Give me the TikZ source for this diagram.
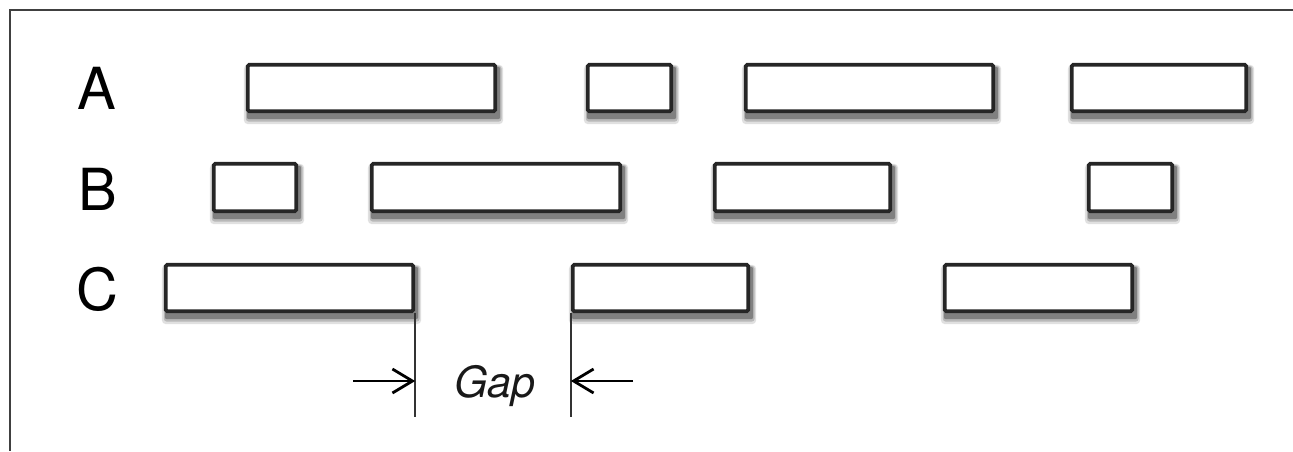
\documentclass[tikz,border=0pt]{standalone}
\usepackage{fontspec}
\setmainfont{TeX Gyre Heros}
\usetikzlibrary{arrows.meta,backgrounds}
\begin{document}
\begin{tikzpicture}[x=1pt,y=-1pt,
  bar/.style={draw=black!85, line width=3.8pt, fill=white, rounded corners=1.5pt, inner sep=0pt},
  rowA/.style={bar, minimum height=46.5pt},
  rowB/.style={bar, minimum height=47.5pt},
  rowC/.style={bar, minimum height=46.5pt},
  shadeA/.style={fill=black!12, rounded corners=4pt},
  shadeB/.style={fill=black!28, rounded corners=3pt},
  shadeC/.style={fill=black!50, rounded corners=2pt},
  lbl/.style={font=\fontsize{58}{60}\selectfont, inner sep=0pt, text=black},
  gaptext/.style={font=\fontsize{43}{45}\selectfont\itshape, inner sep=0pt, text=black!90},
  frame/.style={draw=black!75, line width=2pt},
  gapline/.style={draw=black!80, line width=1.6pt},
  gaparrow/.style={draw=black, line width=2.8pt, -{Straight Barb[length=20pt,width=24pt]}}
]
\useasboundingbox (0,0) rectangle (1293,451);
% frame (top and left only)
\coordinate (ftl) at (9.5,10);
\coordinate (ftr) at (1293,10);
\coordinate (fbl) at (9.5,451);
\draw[frame] (ftr) -- (ftl) -- (fbl);
% labels
\node[lbl] (la) at (97,88) {A};
\node[lbl] (lb) at (98,189) {B};
\node[lbl] (lc) at (97,289) {C};
% row A
\node[rowA, minimum width=247.5pt] (a1) at (371.5,88) {};
\node[rowA, minimum width=83.5pt]  (a2) at (629.5,88) {};
\node[rowA, minimum width=247.5pt] (a3) at (869.5,88) {};
\node[rowA, minimum width=174.5pt] (a4) at (1159,88) {};
% row B
\node[rowB, minimum width=82.5pt]  (b1) at (255,187.5) {};
\node[rowB, minimum width=248.5pt] (b2) at (496,187.5) {};
\node[rowB, minimum width=175.5pt] (b3) at (802.5,187.5) {};
\node[rowB, minimum width=83.5pt]  (b4) at (1130.5,187.5) {};
% row C
\node[rowC, minimum width=247.5pt] (c1) at (289.5,288) {};
\node[rowC, minimum width=175.5pt] (c2) at (660.5,288) {};
\node[rowC, minimum width=187.5pt] (c3) at (1038.5,288) {};
% soft drop shadows
\begin{scope}[on background layer]
\foreach \n in {a1,a2,a3,a4,b1,b2,b3,b4,c1,c2,c3}{
  \fill[shadeA] ([xshift=-2pt,yshift=-2pt]\n.north west) rectangle ([xshift=6pt,yshift=-11pt]\n.south east);
  \fill[shadeB] ([xshift=0pt,yshift=-3pt]\n.north west) rectangle ([xshift=4.5pt,yshift=-8.5pt]\n.south east);
  \fill[shadeC] ([xshift=1pt,yshift=-4pt]\n.north west) rectangle ([xshift=3pt,yshift=-6pt]\n.south east);
}
\end{scope}
% gap markers
\coordinate (gy) at (0,417);
\coordinate (ay) at (0,381);
\draw[gapline] (c1.south east) -- (c1.south east |- gy);
\draw[gapline] (c2.south west) -- (c2.south west |- gy);
\coordinate (la0) at (353,381);
\coordinate (ra0) at (633,381);
\draw[gaparrow] (la0) -- (c1.south east |- ay);
\draw[gaparrow] (ra0) -- (c2.south west |- ay);
\node[gaptext, anchor=base] (gap) at (495,397) {Gap};
\end{tikzpicture}
\end{document}
